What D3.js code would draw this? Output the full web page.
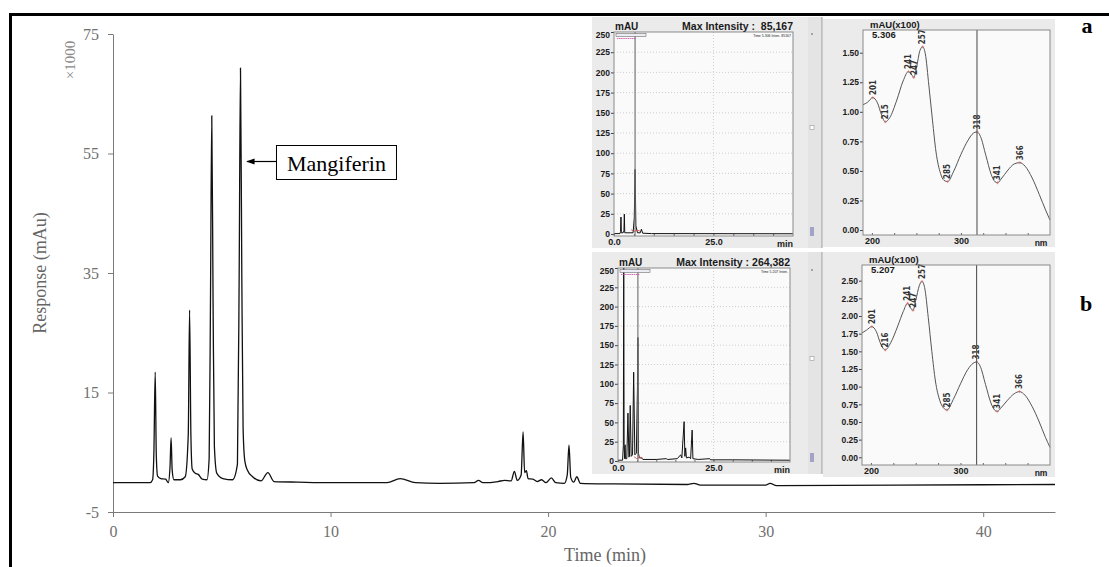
<!DOCTYPE html>
<html>
<head>
<meta charset="utf-8">
<script src="https://cdn.jsdelivr.net/npm/d3@7"></script>
<style>
body { margin: 0; background: #fff; }
svg { display: block; }
.main text { font-family: "Liberation Serif", "Times New Roman", serif; }
.ins text { font-family: "Liberation Sans", Arial, sans-serif; font-weight: bold; fill: #1a1a1a; }
</style>
</head>
<body>
<script>
// main chromatogram (time in min, response x1000 mAu)
var mainTime = [0, 1.70, 1.82, 1.88, 1.94, 1.99, 2.05, 2.20, 2.42, 2.54,
  2.62, 2.67, 2.72, 2.80, 3.10, 3.32, 3.46, 3.52, 3.58, 3.64,
  3.78, 3.92, 4.10, 4.32, 4.42, 4.48, 4.54, 4.60, 4.66, 4.77,
  5.05, 5.50, 5.72, 5.80, 5.86, 5.92, 5.98, 6.06, 6.18, 6.42,
  6.80, 7.12, 7.40, 8.50, 10.0, 12.6, 13.2, 13.9, 15.0, 16.6,
  16.8, 17.0, 17.7, 18.0, 18.3, 18.45, 18.58, 18.76, 18.85, 18.92,
  19.00, 19.08, 19.30, 19.50, 19.70, 19.90, 20.15, 20.35, 20.75, 20.88,
  20.96, 21.04, 21.18, 21.32, 21.48, 23.0, 26.4, 26.7, 27.0, 30.0,
  30.2, 30.5, 36.0, 43.3];
var mainResp = [-0.1, -0.1, 0.4, 5.0, 18.4, 4.5, 1.0, 0.6, 0.5, -0.1,
  2.5, 7.4, 2.0, 0.4, 0.4, 0.9, 8.0, 28.8, 8.0, 2.2,
  1.5, 1.3, 0.5, 0.4, 4.0, 30.0, 61.3, 30.0, 6.0, 1.5,
  0.6, 0.4, 3.0, 35.0, 69.3, 35.0, 9.0, 3.5, 2.0, 0.9,
  0.2, 1.6, 0.1, 0.0, -0.1, -0.1, 0.6, -0.1, -0.2, -0.1,
  0.3, -0.1, 0.1, 0.3, 0.2, 1.8, 0.3, 1.2, 8.4, 1.6,
  1.9, 0.6, 0.5, 0.1, 0.4, -0.1, 0.7, -0.1, -0.2, 1.2,
  6.2, 0.8, 0.0, 0.9, -0.2, -0.3, -0.4, -0.2, -0.5, -0.5,
  -0.2, -0.6, -0.5, -0.4];
var yTicks = [-5, 15, 35, 55, 75];
var xTicks = [0, 10, 20, 30, 40];

// inset chromatograms (min, mAU)
var chromATime = [0, 1.5, 1.65, 1.75, 1.85, 2.3, 2.5, 2.6, 2.7, 4.8, 5.1, 5.3, 5.5, 5.9, 6.6, 6.9, 7.2, 9.4, 45];
var chromAVal  = [0.5, 0.5, 3, 21, 1.5, 1.5, 4, 24.6, 1.5, 1.5, 20, 80, 10, 1.5, 1.5, 6, 1, 0.5, 0.3];
var chromBTime = [0, 1.2, 1.4, 1.5, 1.6, 1.75, 1.85, 1.95, 2.3, 2.6, 2.85, 3.0, 3.2, 3.45, 3.8, 4.1, 4.4, 4.8, 5.1, 5.2,
  5.35, 5.6, 6.2, 6.5, 10, 12.6, 13.0, 15.5, 16.4, 16.7, 17.3, 17.5, 17.7, 17.9, 18.6, 19.0, 19.4, 19.6, 21, 24, 24.2, 30, 45];
var chromBVal  = [1, 1, 20, 264, 20, 3, 21, 3, 3, 62, 5, 6, 72, 6, 8, 115, 8, 10, 97, 160,
  10, 4, 4, 2, 2, 3, 2, 3, 8, 4, 51, 6, 17, 4, 5, 3, 40, 3, 2, 3, 1.5, 1.5, 1];
var chromTicks = [0, 25, 50, 75, 100, 125, 150, 175, 200, 225, 250];

// inset UV spectra (nm, mAU x100)
var specAWl  = [190, 195, 201, 206, 211, 215, 220, 228, 235, 241, 245, 247, 250, 254, 257, 260, 264, 268, 272, 277,
  281, 285, 292, 300, 308, 314, 318, 322, 328, 334, 338, 341, 346, 352, 360, 366, 372, 380, 388, 395, 400];
var specAVal = [1.06, 1.08, 1.12, 1.08, 0.97, 0.915, 0.95, 1.10, 1.26, 1.34, 1.31, 1.29, 1.37, 1.52, 1.55, 1.49, 1.22, 0.93, 0.66, 0.48,
  0.42, 0.41, 0.50, 0.64, 0.76, 0.82, 0.83, 0.79, 0.63, 0.47, 0.41, 0.40, 0.44, 0.50, 0.56, 0.57, 0.54, 0.44, 0.30, 0.17, 0.085];
var specBWl  = [190, 195, 201, 206, 211, 216, 222, 230, 236, 241, 244, 247, 250, 254, 257, 260, 264, 268, 272, 277,
  281, 285, 292, 300, 308, 314, 318, 322, 328, 334, 338, 341, 346, 352, 360, 366, 372, 380, 388, 395, 400];
var specBVal = [1.76, 1.80, 1.85, 1.78, 1.60, 1.52, 1.62, 1.86, 2.06, 2.18, 2.12, 2.08, 2.22, 2.43, 2.49, 2.40, 1.98, 1.50, 1.08, 0.80,
  0.70, 0.67, 0.82, 1.04, 1.24, 1.33, 1.35, 1.29, 1.03, 0.77, 0.67, 0.65, 0.71, 0.80, 0.90, 0.93, 0.88, 0.72, 0.50, 0.28, 0.14];
var specALabels = [201, 215, 241, 247, 257, 285, 318, 341, 366];
var specBLabels = [201, 216, 241, 247, 257, 285, 318, 341, 366];
var specATicks = [0, 0.25, 0.5, 0.75, 1.0, 1.25, 1.5];
var specBTicks = [0, 0.25, 0.5, 0.75, 1.0, 1.25, 1.5, 1.75, 2.0, 2.25, 2.5];

var W = 1109, H = 567;

var svg = d3.select("body").append("svg")
  .attr("width", W)
  .attr("height", H);

svg.append("rect").attr("width", W).attr("height", H).attr("fill", "#fff");
// thick frame round the figure
svg.append("rect")
  .attr("x", 10.5).attr("y", 14.5)
  .attr("width", 1200).attr("height", 700)
  .attr("fill", "none").attr("stroke", "#000").attr("stroke-width", 3);

// ---------- main chart ----------
var main = svg.append("g").attr("class", "main");
var xScale = d3.scaleLinear().domain([0, 43.3]).range([113, 1055]);
var yScale = d3.scaleLinear().domain([-5, 75]).range([512, 34]);

var gy = main.append("g")
  .attr("transform", "translate(113,0)")
  .call(d3.axisLeft(yScale).tickValues(yTicks).tickSize(5).tickSizeOuter(0).tickPadding(9)
    .tickFormat(function(d) { return String(d); }));  // plain hyphen for -5
var gx = main.append("g")
  .attr("transform", "translate(0,512)")
  .call(d3.axisBottom(xScale).tickValues(xTicks).tickSize(5).tickSizeOuter(0).tickPadding(9));
[gx, gy].forEach(function(g) {
  g.select(".domain").attr("stroke", "#7a7a7a");
  g.selectAll(".tick line").attr("stroke", "#7a7a7a");
  g.selectAll(".tick text").attr("fill", "#707070").style("font-size", "16px")
    .style("font-family", "'Liberation Serif', serif");
});

main.append("text")
  .attr("transform", "translate(46,273) rotate(-90)")
  .attr("text-anchor", "middle")
  .attr("fill", "#666").style("font-size", "18px")
  .text("Response (mAu)");
main.append("text")
  .attr("transform", "translate(75,60) rotate(-90)")
  .attr("text-anchor", "middle")
  .attr("fill", "#8a8a8a").style("font-size", "15px")
  .text("×1000");
main.append("text")
  .attr("x", 605).attr("y", 561)
  .attr("text-anchor", "middle")
  .attr("fill", "#666").style("font-size", "18px")
  .text("Time (min)");

var mainLine = d3.line()
  .x(function(d, i) { return xScale(mainTime[i]); })
  .y(function(d) { return yScale(d); })
  .curve(d3.curveMonotoneX);
main.append("path")
  .datum(mainResp)
  .attr("d", mainLine)
  .attr("fill", "none")
  .attr("stroke", "#111")
  .attr("stroke-width", 1.3);

// Mangiferin call-out
var tipX = xScale(5.86) + 6.5, tipY = yScale(55) + 8;
var defs = svg.append("defs");
defs.append("marker")
  .attr("id", "arr").attr("viewBox", "0 0 10 10")
  .attr("refX", 9).attr("refY", 5)
  .attr("markerWidth", 7).attr("markerHeight", 7)
  .attr("orient", "auto")
  .append("path").attr("d", "M0,1.5 L10,5 L0,8.5 Z").attr("fill", "#000");
main.append("line")
  .attr("x1", tipX + 30).attr("y1", tipY).attr("x2", tipX).attr("y2", tipY)
  .attr("stroke", "#000").attr("stroke-width", 1.2)
  .attr("marker-end", "url(#arr)");
main.append("rect")
  .attr("x", tipX + 29.5).attr("y", tipY - 16)
  .attr("width", 120).attr("height", 34)
  .attr("fill", "#fff").attr("stroke", "#000").attr("stroke-width", 1);
main.append("text")
  .attr("x", tipX + 89.5).attr("y", tipY + 9)
  .attr("text-anchor", "middle")
  .attr("fill", "#000").style("font-size", "22px")
  .text("Mangiferin");

// ---------- insets ----------
var ins = svg.append("g").attr("class", "ins");

function drawChrom(c, times, vals, maxText, tinyText, cursor) {
  var g = ins.append("g");
  g.append("rect").attr("x", c.px).attr("y", c.py).attr("width", c.pw).attr("height", c.ph).attr("fill", "#ebebeb");
  var xs = d3.scaleLinear().domain([0, 45]).range([c.x0, c.x1]);
  var ys = d3.scaleLinear().domain([0, 250]).range([c.y0, c.yTop]);
  g.append("rect").attr("x", c.x0).attr("y", c.fTop).attr("width", c.x1 - c.x0).attr("height", c.fBot - c.fTop)
    .attr("fill", "#fafafa");
  // dotted grid
  chromTicks.slice(1, -1).forEach(function(t) {
    g.append("line").attr("x1", c.x0).attr("x2", c.x1).attr("y1", ys(t)).attr("y2", ys(t))
      .attr("stroke", "#bdbdbd").attr("stroke-width", 0.7).attr("stroke-dasharray", "1,2");
  });
  g.append("line").attr("x1", xs(25)).attr("x2", xs(25)).attr("y1", c.fTop).attr("y2", c.fBot)
    .attr("stroke", "#bdbdbd").attr("stroke-width", 0.7).attr("stroke-dasharray", "1,2");

  var gyA = g.append("g").attr("transform", "translate(" + c.x0 + ",0)")
    .call(d3.axisLeft(ys).tickValues(chromTicks).tickSize(3).tickSizeOuter(0).tickPadding(1));
  gyA.select(".domain").remove();
  gyA.selectAll(".tick line").attr("stroke", "#444");
  gyA.selectAll(".tick text").style("font-size", "8.5px").style("font-family", "'Liberation Sans', Arial, sans-serif");
  gyA.select(".tick:last-of-type text").attr("dy", "0.6em");

  var gxA = g.append("g").attr("transform", "translate(0," + c.fBot + ")")
    .call(d3.axisBottom(xs).tickValues([0, 5, 10, 15, 20, 25, 30, 35, 40]).tickSize(-2).tickSizeOuter(0)
      .tickFormat(function(d) { return d === 0 || d === 25 ? d3.format(".1f")(d) : ""; }).tickPadding(3));
  gxA.select(".domain").remove();
  gxA.selectAll(".tick line").attr("stroke", "#666");
  gxA.selectAll(".tick text").style("font-size", "9px").style("font-family", "'Liberation Sans', Arial, sans-serif");
  g.append("text").attr("x", c.x1 - 8).attr("y", c.fBot + 11).attr("text-anchor", "middle").style("font-size", "9px").text("min");

  var clipId = "clip" + c.py;
  defs.append("clipPath").attr("id", clipId).append("rect")
    .attr("x", c.x0).attr("y", c.fTop).attr("width", c.x1 - c.x0).attr("height", c.fBot - c.fTop);
  var ln = d3.line()
    .x(function(d, i) { return xs(times[i]); })
    .y(function(d) { return ys(d); });
  g.append("path").datum(vals).attr("d", ln).attr("clip-path", "url(#" + clipId + ")")
    .attr("fill", "none").attr("stroke", "#111").attr("stroke-width", 1);
  // red integration marks near the cursor peak
  g.append("path").attr("d", "M" + (xs(cursor) - 4) + "," + (ys(3) - 2) + " l3,2 l3,-1.5 l3,1")
    .attr("fill", "none").attr("stroke", "#d44").attr("stroke-width", 0.8);
  g.append("line").attr("x1", xs(cursor)).attr("x2", xs(cursor)).attr("y1", c.fTop).attr("y2", c.fBot)
    .attr("stroke", "#777").attr("stroke-width", 1.4).attr("opacity", 0.85);

  g.append("rect").attr("x", c.x0).attr("y", c.fTop).attr("width", c.x1 - c.x0).attr("height", c.fBot - c.fTop)
    .attr("fill", "none").attr("stroke", "#8a8a8a").attr("stroke-width", 1);
  // tiny header inside the frame
  g.append("rect").attr("x", c.x0 + 2).attr("y", c.fTop + 1.5).attr("width", 30).attr("height", 3)
    .attr("fill", "#ececf4").attr("stroke", "#555").attr("stroke-width", 0.5);
  g.append("line").attr("x1", c.x0 + 3).attr("x2", c.x0 + 22).attr("y1", c.fTop + 6.5).attr("y2", c.fTop + 6.5)
    .attr("stroke", "#c4a").attr("stroke-width", 0.8).attr("stroke-dasharray", "1.5,0.6");
  g.append("text").attr("x", c.x1 - 2).attr("y", c.fTop + 5).attr("text-anchor", "end")
    .style("font-size", "3.5px").style("font-weight", "normal").text(tinyText);

  g.append("text").attr("x", c.x0 + 1).attr("y", c.fTop - 2.5).style("font-size", "10px").text("mAU");
  g.append("text").attr("x", c.x1).attr("y", c.fTop - 2.5).attr("text-anchor", "end")
    .style("font-size", "10.5px").attr("xml:space", "preserve").text(maxText);

  // side strip between the two screenshot panels
  g.append("rect").attr("x", c.px + c.pw).attr("y", c.py).attr("width", 14).attr("height", c.ph).attr("fill", "#e4e4e4");
  g.append("line").attr("x1", c.px + c.pw + 14).attr("x2", c.px + c.pw + 14).attr("y1", c.py).attr("y2", c.py + c.ph)
    .attr("stroke", "#9a9a9a").attr("stroke-width", 1);
  g.append("circle").attr("cx", c.px + c.pw + 4).attr("cy", c.fTop + 2).attr("r", 0.8).attr("fill", "#555");
  g.append("rect").attr("x", c.px + c.pw + 2).attr("y", c.py + c.ph * 0.47).attr("width", 4).attr("height", 4)
    .attr("fill", "#fff").attr("stroke", "#999").attr("stroke-width", 0.6);
  g.append("rect").attr("x", c.px + c.pw + 2).attr("y", c.fBot - 9).attr("width", 4).attr("height", 9)
    .attr("fill", "#a3a3c8");
}

function drawSpec(c, wl, vals, labels, ticks, timeText) {
  var g = ins.append("g");
  g.append("rect").attr("x", c.px).attr("y", c.py).attr("width", c.pw).attr("height", c.ph).attr("fill", "#ebebeb");
  var xs = d3.scaleLinear().domain([190, 400]).range([c.x0, c.x1]);
  var ys = d3.scaleLinear().domain([c.vBot, c.vTop]).range([c.fBot, c.fTop]);
  g.append("rect").attr("x", c.x0).attr("y", c.fTop).attr("width", c.x1 - c.x0).attr("height", c.fBot - c.fTop)
    .attr("fill", "#fafafa");

  var gyA = g.append("g").attr("transform", "translate(" + c.x0 + ",0)")
    .call(d3.axisLeft(ys).tickValues(ticks).tickSize(3).tickSizeOuter(0).tickPadding(1).tickFormat(d3.format(".2f")));
  gyA.select(".domain").remove();
  gyA.selectAll(".tick line").attr("stroke", "#444");
  gyA.selectAll(".tick text").style("font-size", "8.5px").style("font-family", "'Liberation Sans', Arial, sans-serif");

  var gxA = g.append("g").attr("transform", "translate(0," + c.fBot + ")")
    .call(d3.axisBottom(xs).tickValues([200, 225, 250, 275, 300, 325, 350, 375]).tickSize(-2).tickSizeOuter(0)
      .tickFormat(function(d) { return d % 100 === 0 ? d : ""; }).tickPadding(3));
  gxA.select(".domain").remove();
  gxA.selectAll(".tick line").attr("stroke", "#666");
  gxA.selectAll(".tick text").style("font-size", "9px").style("font-family", "'Liberation Sans', Arial, sans-serif");
  g.append("text").attr("x", c.x1 - 9).attr("y", c.fBot + 11).attr("text-anchor", "middle").style("font-size", "8.5px").text("nm");

  var ln = d3.line()
    .x(function(d, i) { return xs(wl[i]); })
    .y(function(d) { return ys(d); })
    .curve(d3.curveMonotoneX);
  g.append("path").datum(vals).attr("d", ln)
    .attr("fill", "none").attr("stroke", "#555").attr("stroke-width", 1);

  labels.forEach(function(w) {
    var i = wl.indexOf(w);
    var px = xs(w), py = ys(vals[i]);
    g.append("path").attr("d", "M" + (px - 1.5) + "," + py + "h3M" + px + "," + (py - 1.5) + "v3")
      .attr("stroke", "#d66").attr("stroke-width", 0.6);
    g.append("text")
      .attr("transform", "translate(" + (px + 2.8) + "," + (py - 2.5) + ") rotate(-90)")
      .style("font-size", "8px")
      .style("font-family", "'Liberation Sans Narrow', 'DejaVu Sans Condensed', sans-serif")
      .style("font-weight", "bold")
      .style("fill", "#333")
      .text(w);
  });

  g.append("line").attr("x1", xs(318)).attr("x2", xs(318)).attr("y1", c.fTop).attr("y2", c.fBot)
    .attr("stroke", "#555").attr("stroke-width", 1.1);
  g.append("rect").attr("x", c.x0).attr("y", c.fTop).attr("width", c.x1 - c.x0).attr("height", c.fBot - c.fTop)
    .attr("fill", "none").attr("stroke", "#8a8a8a").attr("stroke-width", 1);
  g.append("text").attr("x", c.x0 + 7).attr("y", c.fTop - 2).style("font-size", "9.5px").text("mAU(x100)");
  g.append("text").attr("x", c.x0 + 9).attr("y", c.fTop + 7.5).style("font-size", "9.5px").text(timeText);
}

drawChrom({px: 592, py: 17, pw: 216, ph: 231, x0: 614, x1: 793, fTop: 32, fBot: 236, y0: 234, yTop: 32},
  chromATime, chromAVal, "Max Intensity :  85,167", "Time   5.306   Inten.      85167", 5.3);
drawChrom({px: 592, py: 252, pw: 216, ph: 222, x0: 618, x1: 790, fTop: 268, fBot: 462, y0: 461, yTop: 268},
  chromBTime, chromBVal, "Max Intensity : 264,382", "Time   5.207   Inten.", 5.2);
drawSpec({px: 823, py: 19, pw: 232, ph: 228, x0: 863, x1: 1050, fTop: 30, fBot: 235, vBot: -0.042, vTop: 1.692},
  specAWl, specAVal, specALabels, specATicks, "5.306");
drawSpec({px: 823, py: 252, pw: 232, ph: 225, x0: 862, x1: 1050, fTop: 265, fBot: 465, vBot: -0.109, vTop: 2.722},
  specBWl, specBVal, specBLabels, specBTicks, "5.207");

// panel letters
svg.append("text").attr("x", 1087).attr("y", 33).attr("text-anchor", "middle")
  .style("font-family", "'Liberation Serif', serif").style("font-weight", "bold").style("font-size", "22px").text("a");
svg.append("text").attr("x", 1086).attr("y", 311).attr("text-anchor", "middle")
  .style("font-family", "'Liberation Serif', serif").style("font-weight", "bold").style("font-size", "22px").text("b");
</script>
</body>
</html>
